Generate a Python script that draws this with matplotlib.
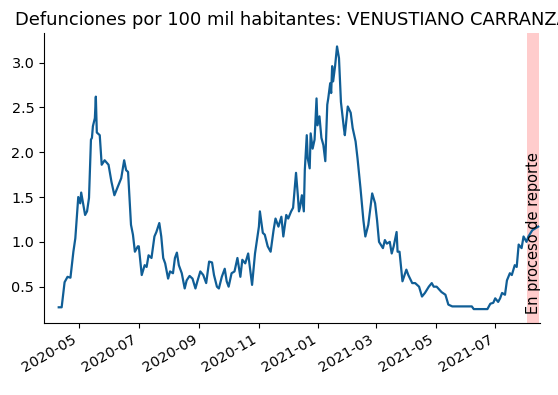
import pandas as pd
import matplotlib
matplotlib.use("Agg")
import matplotlib.pyplot as plt
import matplotlib.dates as mdates

# Fechas y valores (defunciones por 100 mil hab.)
fechas = [
    "2020-04-10", "2020-04-13", "2020-04-16", "2020-04-19", "2020-04-22", "2020-04-25",
    "2020-04-27", "2020-04-30", "2020-05-02", "2020-05-03", "2020-05-07", "2020-05-09",
    "2020-05-11", "2020-05-13", "2020-05-14", "2020-05-15", "2020-05-17", "2020-05-18",
    "2020-05-19", "2020-05-22", "2020-05-24", "2020-05-27", "2020-05-31", "2020-06-03",
    "2020-06-06", "2020-06-10", "2020-06-13", "2020-06-16", "2020-06-18", "2020-06-20",
    "2020-06-23", "2020-06-25", "2020-06-27", "2020-06-30", "2020-07-01", "2020-07-04",
    "2020-07-07", "2020-07-09", "2020-07-11", "2020-07-14", "2020-07-17", "2020-07-19",
    "2020-07-22", "2020-07-24", "2020-07-26", "2020-07-28", "2020-07-31", "2020-08-02",
    "2020-08-05", "2020-08-07", "2020-08-09", "2020-08-11", "2020-08-14", "2020-08-17",
    "2020-08-19", "2020-08-22", "2020-08-25", "2020-08-28", "2020-08-30", "2020-09-02",
    "2020-09-05", "2020-09-08", "2020-09-11", "2020-09-14", "2020-09-16", "2020-09-19",
    "2020-09-21", "2020-09-24", "2020-09-27", "2020-09-29", "2020-10-01", "2020-10-04",
    "2020-10-07", "2020-10-10", "2020-10-13", "2020-10-15", "2020-10-18", "2020-10-21",
    "2020-10-25", "2020-10-28", "2020-11-01", "2020-11-02", "2020-11-05", "2020-11-07",
    "2020-11-10", "2020-11-13", "2020-11-16", "2020-11-18", "2020-11-21", "2020-11-24",
    "2020-11-26", "2020-11-29", "2020-12-01", "2020-12-04", "2020-12-06", "2020-12-09",
    "2020-12-11", "2020-12-12", "2020-12-13", "2020-12-15", "2020-12-17", "2020-12-18",
    "2020-12-20", "2020-12-21", "2020-12-23", "2020-12-24", "2020-12-26", "2020-12-28",
    "2020-12-30", "2020-12-31", "2021-01-02", "2021-01-04", "2021-01-06", "2021-01-08",
    "2021-01-10", "2021-01-11", "2021-01-13", "2021-01-14", "2021-01-15", "2021-01-16",
    "2021-01-18", "2021-01-20", "2021-01-22", "2021-01-24", "2021-01-27", "2021-01-28",
    "2021-01-31", "2021-02-03", "2021-02-05", "2021-02-08", "2021-02-10", "2021-02-13",
    "2021-02-16", "2021-02-18", "2021-02-21", "2021-02-25", "2021-02-28", "2021-03-02",
    "2021-03-04", "2021-03-08", "2021-03-10", "2021-03-12", "2021-03-15", "2021-03-17",
    "2021-03-19", "2021-03-22", "2021-03-23", "2021-03-25", "2021-03-28", "2021-04-01",
    "2021-04-03", "2021-04-07", "2021-04-10", "2021-04-14", "2021-04-17", "2021-04-20",
    "2021-04-24", "2021-04-27", "2021-04-29", "2021-05-02", "2021-05-07", "2021-05-11",
    "2021-05-14", "2021-05-18", "2021-06-07", "2021-06-09", "2021-06-23", "2021-06-26",
    "2021-06-29", "2021-07-01", "2021-07-04", "2021-07-06", "2021-07-08", "2021-07-11",
    "2021-07-13", "2021-07-16", "2021-07-18", "2021-07-21", "2021-07-23", "2021-07-25",
    "2021-07-28", "2021-07-30", "2021-08-02", "2021-08-04", "2021-08-08", "2021-08-11",
    "2021-08-14",
]
valores = [
    0.27, 0.27, 0.55, 0.61, 0.60, 0.89,
    1.04, 1.50, 1.43, 1.55, 1.30, 1.34,
    1.49, 2.14, 2.16, 2.29, 2.38, 2.62,
    2.22, 2.19, 1.86, 1.91, 1.86, 1.67,
    1.52, 1.63, 1.71, 1.91, 1.80, 1.78,
    1.19, 1.08, 0.89, 0.95, 0.95, 0.63,
    0.74, 0.72, 0.85, 0.82, 1.06, 1.11,
    1.21, 1.06, 0.82, 0.76, 0.59, 0.67,
    0.65, 0.82, 0.88, 0.74, 0.65, 0.48,
    0.57, 0.62, 0.59, 0.48, 0.56, 0.67,
    0.63, 0.54, 0.78, 0.77, 0.63, 0.50,
    0.48, 0.61, 0.70, 0.56, 0.50, 0.65,
    0.67, 0.82, 0.61, 0.80, 0.76, 0.87,
    0.52, 0.87, 1.17, 1.34, 1.10, 1.08,
    0.95, 0.89, 1.13, 1.26, 1.17, 1.28,
    1.06, 1.30, 1.26, 1.34, 1.38, 1.77,
    1.50, 1.34, 1.38, 1.52, 1.34, 1.80,
    2.19, 1.93, 1.82, 2.21, 2.04, 2.14,
    2.60, 2.30, 2.40, 2.16, 2.08, 1.90,
    2.53, 2.60, 2.77, 2.66, 2.96, 2.79,
    2.96, 3.18, 3.05, 2.56, 2.27, 2.19,
    2.51, 2.44, 2.27, 2.12, 1.93, 1.60,
    1.24, 1.06, 1.19, 1.54, 1.43, 1.24,
    1.00, 0.93, 1.02, 0.98, 1.00, 0.87,
    0.95, 1.11, 0.89, 0.89, 0.56, 0.69,
    0.63, 0.54, 0.54, 0.50, 0.39, 0.43,
    0.50, 0.54, 0.50, 0.50, 0.44, 0.41,
    0.30, 0.28, 0.28, 0.25, 0.25, 0.31,
    0.32, 0.37, 0.33, 0.37, 0.43, 0.41,
    0.57, 0.65, 0.63, 0.74, 0.72, 0.97,
    0.93, 1.06, 1.00, 1.06, 1.13, 1.15,
    1.17,
]

titulo = "Defunciones por 100 mil habitantes: VENUSTIANO CARRANZA"
etiqueta_reporte = "En proceso de reporte"
inicio_reporte = "2021-08-03"
fin_reporte = "2021-08-15"

serie = pd.Series(valores, index=pd.to_datetime(fechas))

fig = plt.figure(figsize=(5.58, 3.95), dpi=100)
ax = fig.add_axes([0.079, 0.183, 0.889, 0.7335])

ax.plot(serie.index, serie.values, color="#105e96", linewidth=1.6)
ax.axvspan(pd.Timestamp(inicio_reporte), pd.Timestamp(fin_reporte),
           color="red", alpha=0.2, linewidth=0)
ax.text(pd.Timestamp("2021-08-09"), 0.2, etiqueta_reporte, rotation=90,
        ha="center", va="bottom", fontsize=10.5)

ax.set_xlim(pd.Timestamp("2020-03-26"), pd.Timestamp("2021-08-16"))
ax.set_ylim(0.098, 3.33)
ax.set_yticks([0.5, 1.0, 1.5, 2.0, 2.5, 3.0])
ax.xaxis.set_major_locator(mdates.MonthLocator(bymonth=[1, 3, 5, 7, 9, 11]))
ax.xaxis.set_major_formatter(mdates.DateFormatter("%Y-%m"))
ax.tick_params(labelsize=10.4)
plt.setp(ax.get_xticklabels(), rotation=30, ha="right")

ax.spines["top"].set_visible(False)
ax.spines["right"].set_visible(False)
ax.set_title(titulo, fontsize=12.9)

fig.savefig("out.png", dpi=100)
